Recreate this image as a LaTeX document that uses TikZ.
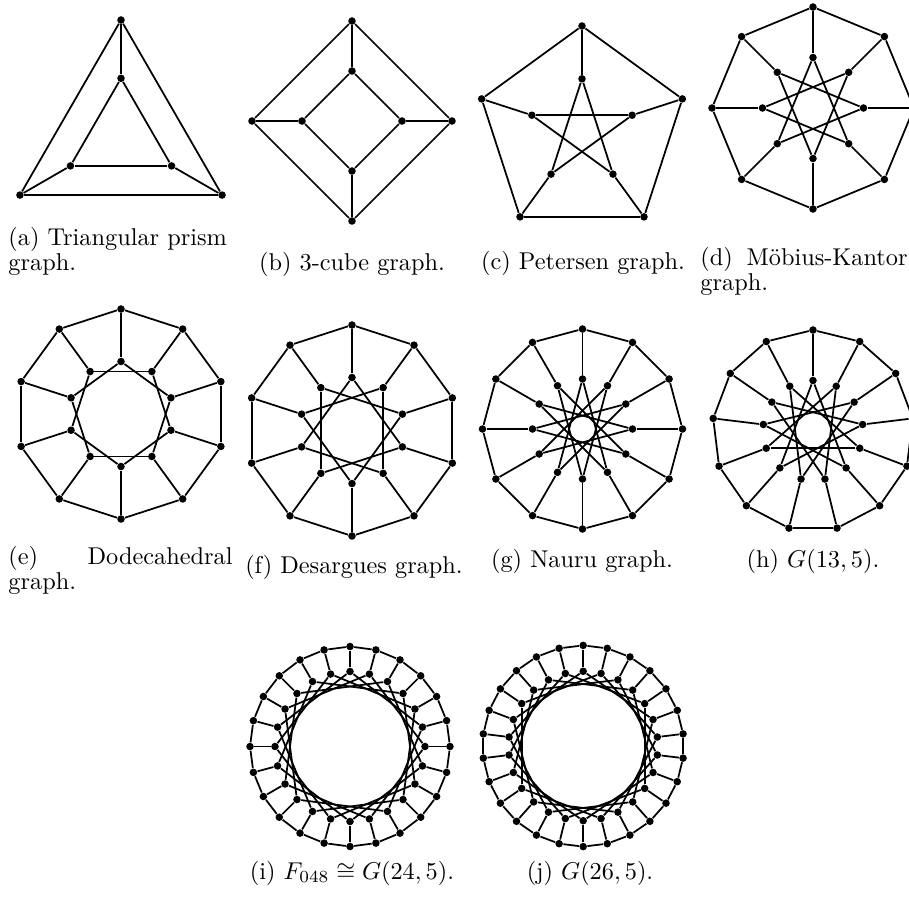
\documentclass[tikz,border=0pt]{standalone}
\usepackage{amssymb}
\tikzset{
  x={(0.4115pt,0)}, y={(0,-0.4115pt)},
  vtx/.style={circle, fill=black, draw=none, inner sep=0pt, minimum size=3.1pt},
  gedge/.style={line width=0.72pt, black},
  captext/.style={inner sep=0pt, font=\normalsize}
}
% #1 name prefix, #2 cx, #3 cy, #4 n, #5 k, #6 R, #7 r
\newcommand\GPGraph[7]{%
  \pgfmathtruncatemacro\gpLast{#4-1}%
  \begin{scope}[shift={(#2,#3)}]
    \foreach \i in {0,...,\gpLast} {
      \pgfmathsetmacro\gpAng{270+360*\i/#4}
      \node[vtx] (#1o\i) at (\gpAng:#6) {};
      \node[vtx] (#1i\i) at (\gpAng:#7) {};
    }
    \foreach \i in {0,...,\gpLast} {
      \pgfmathtruncatemacro\gpNext{mod(\i+1,#4)}
      \pgfmathtruncatemacro\gpJump{mod(\i+#5,#4)}
      \draw[gedge] (#1o\i) -- (#1o\gpNext);
      \draw[gedge] (#1o\i) -- (#1i\i);
      \draw[gedge] (#1i\i) -- (#1i\gpJump);
    }
  \end{scope}}
\begin{document}
\begin{tikzpicture}
\useasboundingbox (0,0) rectangle (909,905);
% row 1
\GPGraph{a}{121}{136.7}{3}{1}{116.7}{58.4}
\GPGraph{b}{352}{121}{4}{1}{100}{50}
\GPGraph{c}{582}{131.5}{5}{2}{105.5}{52.7}
\GPGraph{d}{813}{108}{8}{3}{101}{50.5}
% row 2
\GPGraph{e}{121}{414}{10}{2}{105}{52.5}
\GPGraph{f}{352}{430.5}{10}{3}{105.5}{53}
\GPGraph{g}{582.5}{429}{12}{5}{100}{50}
\GPGraph{h}{813}{430.5}{13}{5}{100.5}{50}
% row 3
\GPGraph{i}{350}{746.5}{24}{5}{100}{75}
\GPGraph{j}{583.2}{746}{26}{5}{100.6}{74.7}
% captions
\node[captext, anchor=base west] (capa1) at (8,245) {(a) Triangular prism};
\node[captext, anchor=base west] (capa2) at (8,270) {graph.};
\node[captext, anchor=base] (capb) at (352,270) {(b) 3-cube graph.};
\node[captext, anchor=base] (capc) at (583,269) {(c) Petersen graph.};
\node[captext, anchor=base west] (capd1) at (700,265) {(d)};
\node[captext, anchor=base east] (capd1b) at (908,265) {Möbius-Kantor};
\node[captext, anchor=base west] (capd2) at (700,290) {graph.};
\node[captext, anchor=base west] (cape1) at (8,564) {(e)};
\node[captext, anchor=base east] (cape1b) at (233,564) {Dodecahedral};
\node[captext, anchor=base west] (cape2) at (8,589) {graph.};
\node[captext, anchor=base] (capf) at (354,573) {(f) Desargues graph.};
\node[captext, anchor=base] (capg) at (582,567) {(g) Nauru graph.};
\node[captext, anchor=base] (caph) at (813,567) {(h) $G(13,5)$.};
\node[captext, anchor=base] (capi) at (352,879) {(i) $F_{048}\cong G(24,5)$.};
\node[captext, anchor=base] (capj) at (590,879) {(j) $G(26,5)$.};
\end{tikzpicture}
\end{document}
